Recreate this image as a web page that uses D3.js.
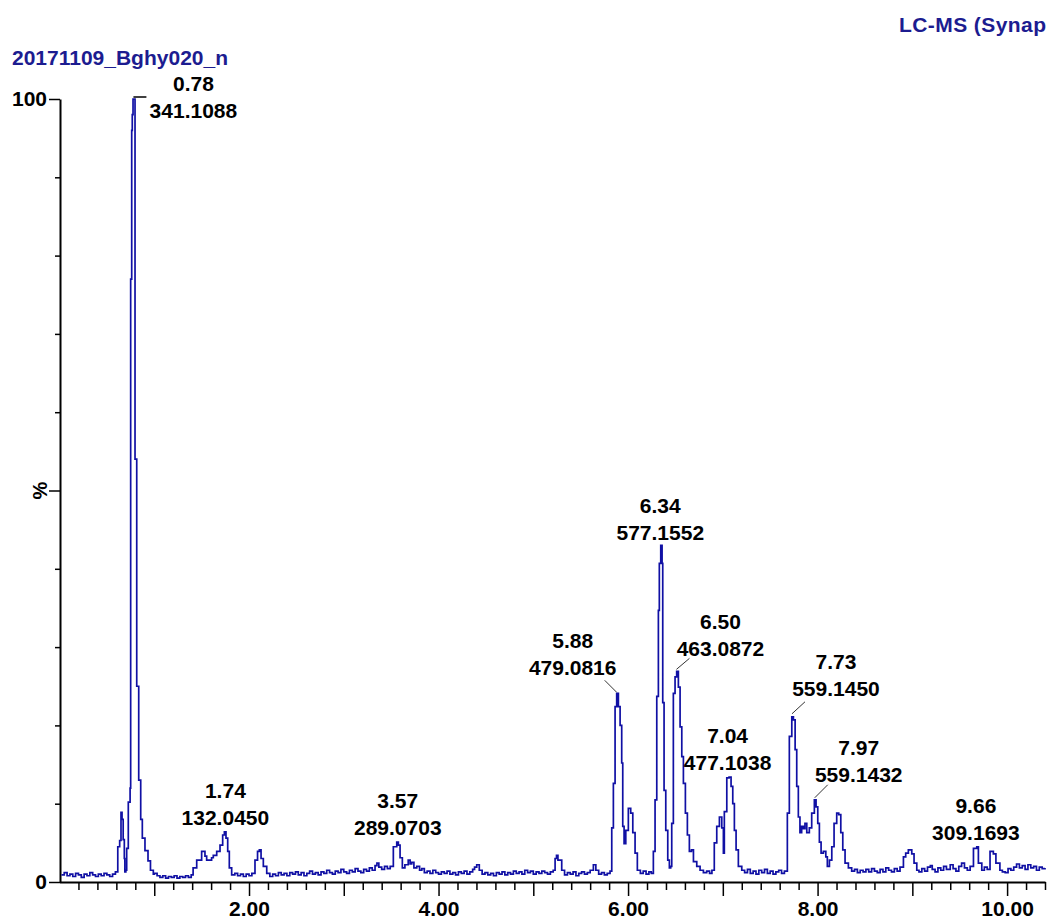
<!DOCTYPE html>
<html>
<head>
<meta charset="utf-8">
<title>20171109_Bghy020_n</title>
<script src="https://d3js.org/d3.v7.min.js"></script>
<style>
  body { margin: 0; background: #fff; }
  svg { display: block; }
</style>
</head>
<body>
<svg width="1050" height="921"></svg>
<script>
// chromatogram trace, [retention time (min), % of base peak]
const traceA = [
  [0.02,0.9],[0.05,1.2],[0.08,0.8],[0.11,1.0],[0.14,0.7],[0.17,1.1],[0.20,0.9],[0.23,0.6],[0.26,1.0],[0.29,0.8],
  [0.32,1.2],[0.35,0.9],[0.38,0.7],[0.41,1.0],[0.44,0.8],[0.47,1.1],[0.50,0.9],[0.53,0.7],[0.56,1.0],[0.59,1.3],
  [0.615,4.5],[0.635,5.3],[0.649,8.9],[0.66,8.0],[0.672,5.4],[0.684,3.0],[0.69,1.3],[0.70,1.5],[0.709,4.3],[0.726,10.2],
  [0.745,12],[0.751,77],[0.762,96],[0.768,98],[0.776,100],[0.797,54],[0.815,25],[0.836,13],[0.857,8],[0.874,5.6],
  [0.902,4],[0.934,2.7],[0.96,1.5],[0.99,1.0],[1.00,1.1],[1.03,0.8],[1.06,0.6],[1.09,0.8],[1.12,0.5],[1.15,0.7],
  [1.18,0.6],[1.21,0.8],[1.24,0.5],[1.27,0.7],[1.30,0.6],[1.33,0.8],[1.36,0.6],[1.39,0.9],
  [1.41,1.8],[1.448,2.8],[1.50,3.9],[1.535,3.3],[1.553,2.8],[1.588,2.8],[1.605,3.1],[1.623,3.4],[1.659,3.9],[1.694,4.7],
  [1.722,6.0],[1.74,6.4],[1.757,5.6],[1.775,3.9],[1.792,1.8],[1.817,0.9],[1.85,1.1],[1.88,0.8],[1.91,1.0],[1.94,0.7],
  [1.97,1.0],[2.00,0.8],[2.03,1.1],[2.063,2.8],[2.09,3.9],[2.109,4.1],[2.127,3.0],[2.151,2.0],[2.187,1.1],[2.22,0.7],
  [2.25,1.0],[2.28,0.8],[2.31,1.2],[2.34,0.9],[2.37,1.1],[2.40,0.8],[2.43,1.2],[2.46,1.0],[2.49,1.3]
];
const traceB = [
  [2.52,0.9],[2.55,1.2],[2.58,0.8],[2.61,1.1],[2.64,1.4],[2.67,1.0],[2.70,1.2],[2.73,0.9],[2.76,1.3],[2.79,1.1],
  [2.82,1.5],[2.85,1.2],[2.88,1.0],[2.91,1.4],[2.94,1.2],[2.97,1.6],[3.00,1.3],[3.03,1.1],[3.06,1.5],[3.09,1.3],
  [3.12,1.7],[3.15,1.4],[3.18,1.2],[3.21,1.6],[3.24,1.4],[3.27,1.8],[3.30,1.5],[3.33,2.1],[3.35,2.4],[3.37,1.9],
  [3.40,1.6],[3.43,2.0],[3.46,1.7],[3.49,2.0],[3.523,4.5],[3.559,5.1],[3.576,4.7],[3.594,3.1],[3.618,1.8],[3.645,2.2],
  [3.68,2.8],[3.70,2.3],[3.717,2.5],[3.74,1.8],[3.77,2.0],[3.80,1.5],[3.823,1.7],[3.85,1.2],[3.88,1.4],[3.91,1.1],
  [3.94,1.5],[3.97,1.2],[4.00,1.0],[4.03,1.3],[4.06,1.1],[4.09,1.4],[4.12,1.0],[4.15,1.2],[4.18,0.9],[4.21,1.3],
  [4.24,1.1],[4.27,1.4],[4.30,1.0],[4.33,1.3],[4.36,1.6],[4.38,1.9],[4.403,2.2],[4.43,1.5],[4.46,1.0],[4.49,1.2],
  [4.52,0.9],[4.55,1.1],[4.58,0.8],[4.61,1.2],[4.64,1.0],[4.67,1.3],[4.70,0.9],[4.73,1.2],[4.76,1.0],[4.79,1.4],
  [4.82,1.1],[4.85,1.3],[4.88,1.0],[4.91,1.5],[4.94,1.2],[4.97,1.4],[5.00,1.0],[5.03,1.3],[5.06,1.1],[5.09,1.4],
  [5.12,1.2],[5.15,1.0],[5.18,1.3],[5.21,1.5],[5.23,3.0],[5.245,3.4],[5.26,2.8],[5.30,1.5],[5.33,0.9],[5.36,1.2],
  [5.39,1.0],[5.42,1.3],[5.45,0.8],[5.48,1.1],[5.51,1.3],[5.54,1.0],[5.57,1.2],[5.60,1.5],[5.634,2.2],[5.66,1.5],
  [5.69,1.0],[5.72,1.2],[5.75,0.9],[5.78,1.1],[5.81,1.4]
];
const traceC = [
  [5.828,6.9],[5.845,12.6],[5.863,22.4],[5.88,24.1],[5.898,22.4],[5.916,20.0],[5.933,15.2],[5.944,7.1],[5.958,4.9],[5.976,6.6],
  [6.003,9.4],[6.028,8.8],[6.05,6.3],[6.074,3.7],[6.098,1.5],[6.13,1.1],[6.16,1.4],[6.19,1.0],[6.22,1.3],[6.245,1.1],
  [6.267,3.9],[6.285,10.5],[6.303,23.7],[6.32,34.7],[6.33,40.7],[6.345,43.0],[6.359,40.7],[6.366,22.9],[6.38,11.7],[6.398,6.6],
  [6.419,2.8],[6.436,1.8],[6.45,2.0],[6.461,7.5],[6.478,24.1],[6.496,26.2],[6.513,26.9],[6.531,24.9],[6.549,19.8],[6.567,16.0],
  [6.584,12.6],[6.605,8.8],[6.626,6.0],[6.647,3.9],[6.669,4.1],[6.69,2.6],[6.725,2.0],[6.76,1.5],[6.795,1.2],[6.83,1.4],
  [6.86,1.1],[6.885,1.5],[6.91,5.0],[6.936,7.1],[6.964,8.3],[6.989,6.9],[7.006,3.7],[7.016,9.0],[7.042,13.3],[7.066,13.4],
  [7.087,12.2],[7.105,10.0],[7.122,6.6],[7.14,4.1],[7.164,2.0],[7.2,1.5],[7.23,1.2],[7.26,1.6],[7.29,1.1],[7.32,1.4],
  [7.35,1.0],[7.38,1.5],[7.41,1.2],[7.44,1.6],[7.47,1.1],[7.50,1.4],[7.53,1.0],[7.56,1.3],[7.59,1.5],[7.62,1.1],
  [7.65,1.4],[7.681,8.8],[7.702,18.6],[7.728,21.1],[7.745,20.7],[7.763,16.9],[7.78,12.2],[7.797,8.3],[7.814,6.3],[7.832,7.1],
  [7.85,6.8],[7.867,7.5],[7.886,6.3],[7.913,6.9],[7.938,8.8],[7.966,10.5],[7.984,9.6],[8.002,7.5],[8.019,5.1],[8.037,3.7],
  [8.061,3.9],[8.087,3.2],[8.103,2.0],[8.125,2.8],[8.15,4.5],[8.174,7.5],[8.202,8.8],[8.223,8.6],[8.245,6.3],[8.266,4.1],
  [8.29,2.4],[8.325,1.8],[8.36,1.4],[8.39,1.6],[8.42,1.2],[8.45,1.5],[8.48,1.3]
];
const traceD = [
  [8.51,1.6],[8.54,1.3],[8.57,1.7],[8.60,1.4],[8.63,1.2],[8.66,1.6],[8.69,1.3],[8.72,1.8],[8.75,1.5],[8.78,1.3],
  [8.81,1.7],[8.84,1.4],[8.87,1.9],[8.906,3.2],[8.93,3.7],[8.958,4.1],[8.994,3.6],[9.018,2.4],[9.047,1.5],[9.07,1.3],
  [9.10,1.7],[9.13,1.4],[9.16,1.9],[9.19,2.1],[9.21,1.6],[9.24,1.3],[9.27,1.8],[9.30,1.5],[9.33,2.0],[9.36,1.6],
  [9.40,2.2],[9.43,1.7],[9.46,1.4],[9.49,2.0],[9.52,2.4],[9.55,1.8],[9.58,1.5],[9.61,2.0],[9.645,4.3],[9.68,4.5],
  [9.697,2.4],[9.733,1.5],[9.76,1.9],[9.79,1.6],[9.82,3.9],[9.855,3.6],[9.882,2.4],[9.924,1.5],[9.95,1.3],[9.98,1.2],
  [10.01,1.7],[10.04,1.5],[10.07,1.9],[10.10,2.3],[10.13,1.8],[10.16,2.1],[10.19,1.6],[10.22,2.2],[10.25,1.8],[10.28,2.0],
  [10.31,1.5],[10.34,1.9],[10.37,1.7],[10.40,1.8]
];

// labelled peaks
const peakTimes   = [0.78, 1.74, 3.57, 5.88, 6.34, 6.50, 7.04, 7.73, 7.97, 9.66];
const peakMasses  = ['341.1088','132.0450','289.0703','479.0816','577.1552','463.0872','477.1038','559.1450','559.1432','309.1693'];
const peakHeights = [100, 6.4, 5.1, 24.1, 43.0, 26.9, 13.4, 21.1, 10.5, 4.5];

// axis tick labels
const xTickLabels = [2, 4, 6, 8, 10];
const yTickLabels = [0, 100];

// where each label sits relative to its apex (px): centre dx, mass-line baseline dy, optional leader
const labelLayout = [
  {dx: 60, dy: 19, leader: [0, -2, 13, -2]},
  {dx: 1, dy: -7},
  {dx: 0, dy: -7},
  {dx: -44, dy: -18, leader: [0, -1, -12, -13]},
  {dx: 0, dy: -5},
  {dx: 45, dy: -15, leader: [1, -2, 14, -13]},
  {dx: 1, dy: -7},
  {dx: 44, dy: -21, leader: [0, -3, 13, -15]},
  {dx: 44, dy: -18, leader: [0, -2, 13, -15]},
  {dx: 1, dy: -7}
];

const font = '"Liberation Sans", Arial, sans-serif';
const blue = '#1010a4';
const svg = d3.select('svg');

const x = d3.scaleLinear().domain([0, 10.4]).range([59.5, 1045]);
const y = d3.scaleLinear().domain([0, 100]).range([882, 99]);

// headers
svg.append('text')
   .attr('x', 12).attr('y', 65)
   .attr('font-family', font).attr('font-size', 21).attr('font-weight', 'bold')
   .attr('fill', '#1c1c90')
   .text('20171109_Bghy020_n');
svg.append('text')
   .attr('x', 899).attr('y', 32)
   .attr('font-family', font).attr('font-size', 21).attr('font-weight', 'bold')
   .attr('fill', '#1c1c90')
   .attr('textLength', 147)
   .text('LC-MS (Synap');

// x axis: 0.2 min minor ticks, longer ticks on whole minutes, labels on even minutes
const minorX = d3.range(1, 53).map(i => +(i * 0.2).toFixed(1)).filter(v => v % 1 !== 0);
const wholeX = d3.range(1, 11);

const styleAxis = g => {
  g.attr('font-family', font).attr('font-size', 21).attr('font-weight', 'bold');
  g.selectAll('.tick line').attr('stroke', '#000').attr('stroke-width', 1.5);
  g.selectAll('.tick text').attr('fill', '#000');
};

svg.append('g')
   .attr('transform', 'translate(0,882)')
   .call(d3.axisBottom(x).tickValues(minorX).tickSize(8).tickSizeOuter(0).tickFormat(''))
   .call(styleAxis)
   .call(g => g.select('.domain').attr('stroke', '#000').attr('stroke-width', 2));

svg.append('g')
   .attr('transform', 'translate(0,882)')
   .call(d3.axisBottom(x).tickValues(wholeX).tickSize(14).tickSizeOuter(0).tickPadding(5)
           .tickFormat(d => xTickLabels.includes(d) ? d3.format('.2f')(d) : ''))
   .call(styleAxis)
   .call(g => g.select('.domain').remove());

// y axis: ticks every 10%, longer at 0/50/100
svg.append('g')
   .attr('transform', 'translate(60,0)')
   .call(d3.axisLeft(y).tickValues([10, 20, 30, 40, 60, 70, 80, 90]).tickSize(5).tickSizeOuter(0).tickFormat(''))
   .call(styleAxis)
   .call(g => g.select('.domain').attr('stroke', '#000').attr('stroke-width', 2));

svg.append('g')
   .attr('transform', 'translate(60,0)')
   .call(d3.axisLeft(y).tickValues([0, 50, 100]).tickSize(11).tickSizeOuter(0).tickPadding(2)
           .tickFormat(d => yTickLabels.includes(d) ? d : ''))
   .call(styleAxis)
   .call(g => g.select('.domain').remove());

svg.append('text')
   .attr('transform', `translate(40,${y(50)}) rotate(-90)`)
   .attr('text-anchor', 'middle').attr('dy', '0.35em')
   .attr('font-family', font).attr('font-size', 20).attr('font-weight', 'bold')
   .attr('fill', '#000')
   .text('%');

// the trace
const trace = traceA.concat(traceB, traceC, traceD);
const line = d3.line()
               .x(d => x(d[0]))
               .y(d => y(d[1]))
               .curve(d3.curveStepAfter);

svg.append('path')
   .datum(trace)
   .attr('d', line)
   .attr('fill', 'none')
   .attr('stroke', blue)
   .attr('stroke-width', 1.7);

// peak annotations
const labels = svg.append('g')
   .attr('font-family', font).attr('font-size', 21).attr('font-weight', 'bold')
   .attr('fill', '#000').attr('text-anchor', 'middle');

peakTimes.forEach((t, i) => {
  const ax = x(t), ay = y(peakHeights[i]);
  const L = labelLayout[i];
  labels.append('text')
        .attr('x', ax + L.dx).attr('y', ay + L.dy - 27)
        .text(d3.format('.2f')(t));
  labels.append('text')
        .attr('x', ax + L.dx).attr('y', ay + L.dy)
        .text(peakMasses[i]);
  if (L.leader) {
    svg.append('line')
       .attr('x1', ax + L.leader[0]).attr('y1', ay + L.leader[1])
       .attr('x2', ax + L.leader[2]).attr('y2', ay + L.leader[3])
       .attr('stroke', i === 0 ? '#000' : '#333')
       .attr('stroke-width', i === 0 ? 1.5 : 1);
  }
});
</script>
</body>
</html>
